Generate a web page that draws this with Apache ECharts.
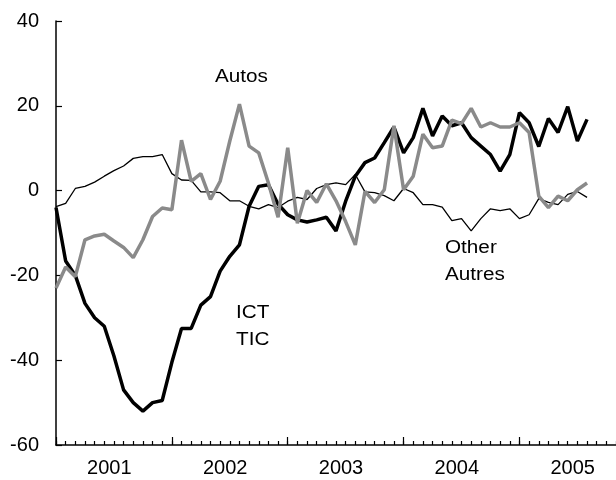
<!DOCTYPE html>
<html>
<head>
<meta charset="utf-8">
<script src="https://cdn.jsdelivr.net/npm/echarts@6/dist/echarts.min.js"></script>
<style>
  html, body { margin: 0; padding: 0; background: #fff; }
  #chart { width: 616px; height: 480px; }
</style>
</head>
<body>
<div id="chart"></div>
<script>
// months Jan 2001 .. Nov 2005 (axis runs a little past the data)
var months = [
  '2001-01','2001-02','2001-03','2001-04','2001-05','2001-06','2001-07','2001-08','2001-09','2001-10','2001-11','2001-12',
  '2002-01','2002-02','2002-03','2002-04','2002-05','2002-06','2002-07','2002-08','2002-09','2002-10','2002-11','2002-12',
  '2003-01','2003-02','2003-03','2003-04','2003-05','2003-06','2003-07','2003-08','2003-09','2003-10','2003-11','2003-12',
  '2004-01','2004-02','2004-03','2004-04','2004-05','2004-06','2004-07','2004-08','2004-09','2004-10','2004-11','2004-12',
  '2005-01','2005-02','2005-03','2005-04','2005-05','2005-06','2005-07','2005-08','2005-09','2005-10','2005-11'
];

// year labels sit in the middle of each year
var yearLabels = { 5: '2001', 17: '2002', 29: '2003', 41: '2004', 53: '2005' };

var ict = [
  -4, -16.6, -20, -26.6, -30, -32, -39, -47, -50, -52, -50, -49.5,
  -40.5, -32.5, -32.5, -27, -25, -19, -15.5, -12.8, -3.7, 1, 1.4, -3.2,
  -5.7, -6.9, -7.4, -6.9, -6.3, -9.5, -2.5, 3.4, 6.6, 7.7, 11.3, 15,
  8.9, 12.5, 19.4, 12.9, 17.6, 15.3, 16, 12.5, 10.5, 8.5, 4.6, 8.5,
  18.4, 16, 10.4, 17, 13.7, 19.8, 11.7, 16.8
];

var autos = [
  -23, -18, -20.3, -11.6, -10.7, -10.3, -11.9, -13.4, -15.8, -11.6, -6.1, -4.1,
  -4.5, 11.9, 2.2, 4, -2.1, 2.2, 11.7, 20.4, 10.5, 8.9, 1.8, -6.3,
  10.1, -7.7, 0, -2.8, 1.6, -2.4, -7.3, -12.8, -0.2, -2.8, 0.2, 15.3,
  0.2, 3.4, 13.3, 10.1, 10.5, 16.6, 15.8, 19.4, 15, 16, 15, 15,
  16, 13.7, -1.3, -4, -1.3, -2.4, 0.2, 1.8
];

var other = [
  -3.8, -3, 0.5, 1, 2, 3.4, 4.7, 5.8, 7.6, 8, 8, 8.5,
  4, 2.5, 2.4, -0.3, -0.3, -0.5, -2.4, -2.4, -3.7, -4.3, -3.3, -4,
  -2.5, -1.6, -2.1, 0.5, 1.4, 1.8, 1.4, 3.8, -0.3, -0.5, -1.2, -2.4,
  0.5, -0.5, -3.3, -3.3, -3.9, -7.1, -6.6, -9.5, -6.6, -4.3, -4.7, -4.3,
  -6.6, -5.7, -1.9, -2.8, -3.3, -0.9, -0.2, -1.6
];

var FONT = "'Liberation Sans', Arial, Helvetica, sans-serif";

var myChart = echarts.init(document.getElementById('chart'));

// 图中文字 (略微横向拉伸, 与原图一致)
function note(text, x, y) {
    return {
        type: 'text', x: x, y: y, scaleX: 1.15,
        style: { text: text, font: '18px ' + FONT, fill: '#000' }
    };
}

myChart.setOption({
    animation: false,
    grid: {
        left: 56,
        right: 0,
        top: 21,
        bottom: 35
    },
    xAxis: [{
        type: 'category',
        data: months,
        boundaryGap: false,
        axisLine: { onZero: false, lineStyle: { color: '#000', width: 1.5 } },
        axisTick: { //每月一个短刻度
            inside: true,
            length: 4,
            interval: 0,
            lineStyle: { color: '#000', width: 1.2 }
        },
        axisLabel: {
            interval: function (index) { return yearLabels[index] !== undefined; },
            formatter: function (value, index) { return yearLabels[index] || ''; },
            color: '#000',
            fontFamily: FONT,
            fontSize: 20,
            margin: 13,
            padding: [0, 0, 0, 10]
        },
        splitLine: { show: false }
    }, {
        // 年份分隔的长刻度
        type: 'category',
        data: months,
        boundaryGap: false,
        position: 'bottom',
        axisLine: { show: false, onZero: false },
        axisTick: {
            inside: true,
            length: 8,
            interval: function (index) { return index % 12 === 0; },
            lineStyle: { color: '#000', width: 1.2 }
        },
        axisLabel: { show: false },
        splitLine: { show: false }
    }],
    yAxis: {
        type: 'value',
        min: -60,
        max: 40,
        interval: 20,
        axisLine: { show: true, lineStyle: { color: '#000', width: 1.5 } },
        axisTick: { show: true, inside: true, length: 6, lineStyle: { color: '#000', width: 1.2 } },
        axisLabel: { color: '#000', fontFamily: FONT, fontSize: 20, margin: 17 },
        splitLine: { show: false }
    },
    series: [{
        name: 'Other',
        type: 'line',
        data: other,
        symbol: 'none',
        lineStyle: { color: '#000', width: 1.3 },
        z: 2
    }, {
        name: 'ICT',
        type: 'line',
        data: ict,
        symbol: 'none',
        lineStyle: { color: '#000', width: 3.5 },
        z: 3
    }, {
        name: 'Autos',
        type: 'line',
        data: autos,
        symbol: 'none',
        lineStyle: { color: '#8a8a8a', width: 3.5 },
        z: 4
    }],
    graphic: [
        note('Autos', 215, 68),
        note('ICT', 236, 304),
        note('TIC', 236, 331),
        note('Other', 445, 239),
        note('Autres', 445, 266)
    ]
});
</script>
</body>
</html>
